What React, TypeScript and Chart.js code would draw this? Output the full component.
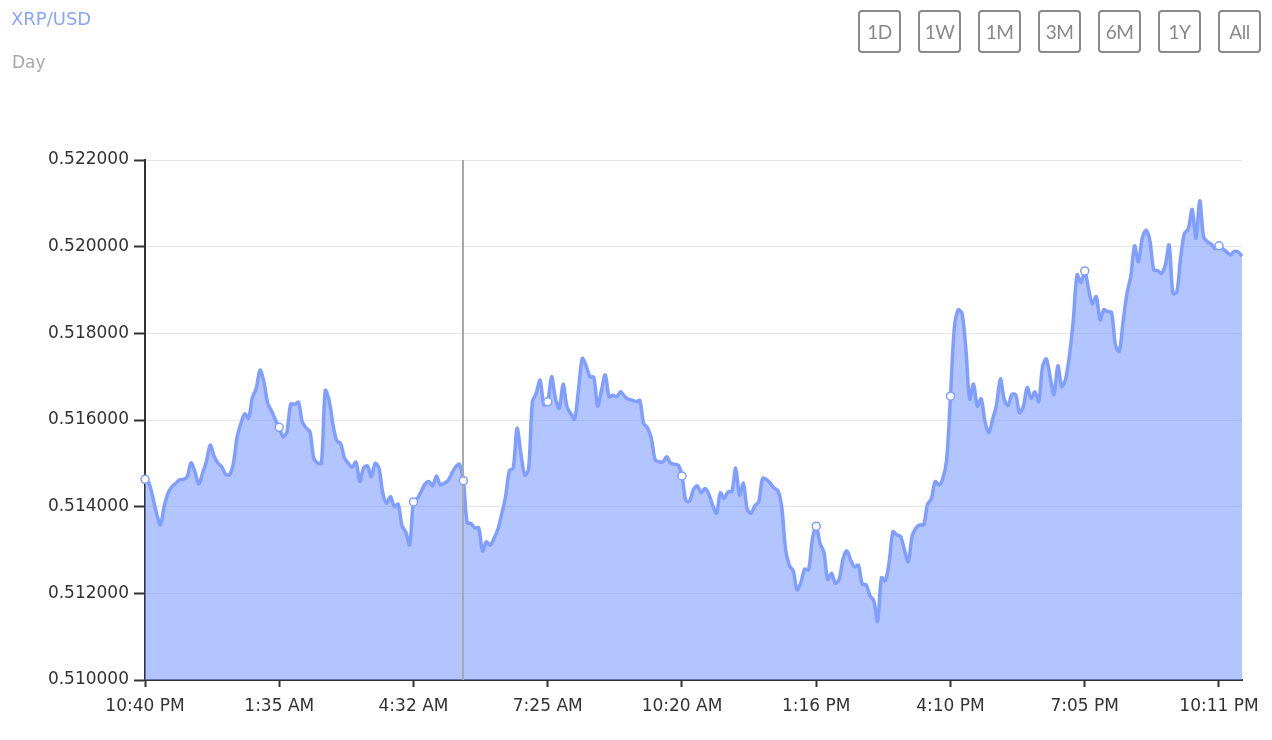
import React, { useEffect, useRef } from "react";
import { Chart, registerables } from "chart.js";

Chart.register(...registerables);

const pair = "XRP/USD";
const period = "Day";
const rangeButtons = ["1D", "1W", "1M", "3M", "6M", "1Y", "All"];

const tickLabels = [
  "10:40 PM", "1:35 AM", "4:32 AM", "7:25 AM", "10:20 AM",
  "1:16 PM", "4:10 PM", "7:05 PM", "10:11 PM",
];
const labelStep = 35;
const hoverIndex = 83;

const prices = [
  0.51463, 0.51455, 0.51423, 0.51385, 0.51358, 0.51400, 0.51431, 0.51446, 0.51454, 0.51462,
  0.51463, 0.51469, 0.51501, 0.51481, 0.51452, 0.51477, 0.51504, 0.51542, 0.51517, 0.51501,
  0.51492, 0.51475, 0.51473, 0.51498, 0.51560, 0.51592, 0.51614, 0.51604, 0.51652, 0.51673,
  0.51715, 0.51688, 0.51639, 0.51621, 0.51600, 0.51583, 0.51561, 0.51573, 0.51637, 0.51636,
  0.51641, 0.51596, 0.51582, 0.51573, 0.51512, 0.51501, 0.51500, 0.51668, 0.51645, 0.51590,
  0.51552, 0.51546, 0.51512, 0.51500, 0.51491, 0.51503, 0.51458, 0.51489, 0.51494, 0.51469,
  0.51500, 0.51489, 0.51431, 0.51408, 0.51423, 0.51400, 0.51406, 0.51356, 0.51341, 0.51312,
  0.51411, 0.51419, 0.51435, 0.51452, 0.51458, 0.51448, 0.51471, 0.51450, 0.51454, 0.51460,
  0.51477, 0.51492, 0.51498, 0.51460, 0.51363, 0.51361, 0.51351, 0.51351, 0.51298, 0.51319,
  0.51311, 0.51327, 0.51348, 0.51383, 0.51423, 0.51483, 0.51489, 0.51581, 0.51523, 0.51473,
  0.51486, 0.51642, 0.51662, 0.51692, 0.51635, 0.51642, 0.51700, 0.51650, 0.51627, 0.51683,
  0.51631, 0.51615, 0.51602, 0.51669, 0.51742, 0.51725, 0.51700, 0.51699, 0.51632, 0.51668,
  0.51704, 0.51654, 0.51657, 0.51654, 0.51665, 0.51655, 0.51648, 0.51646, 0.51642, 0.51645,
  0.51592, 0.51582, 0.51558, 0.51508, 0.51504, 0.51503, 0.51515, 0.51501, 0.51498, 0.51496,
  0.51471, 0.51414, 0.51413, 0.51440, 0.51448, 0.51432, 0.51442, 0.51429, 0.51403, 0.51385,
  0.51432, 0.51419, 0.51434, 0.51435, 0.51489, 0.51427, 0.51454, 0.51394, 0.51385, 0.51402,
  0.51411, 0.51465, 0.51463, 0.51454, 0.51443, 0.51437, 0.51400, 0.51302, 0.51264, 0.51252,
  0.51208, 0.51225, 0.51256, 0.51254, 0.51325, 0.51355, 0.51315, 0.51295, 0.51232, 0.51246,
  0.51223, 0.51233, 0.51280, 0.51298, 0.51276, 0.51261, 0.51265, 0.51221, 0.51220, 0.51195,
  0.51183, 0.51135, 0.51236, 0.51229, 0.51271, 0.51342, 0.51335, 0.51331, 0.51300, 0.51273,
  0.51332, 0.51351, 0.51358, 0.51358, 0.51405, 0.51418, 0.51458, 0.51450, 0.51465, 0.51508,
  0.51655, 0.51812, 0.51854, 0.51846, 0.51765, 0.51648, 0.51683, 0.51632, 0.51649, 0.51596,
  0.51571, 0.51602, 0.51635, 0.51695, 0.51648, 0.51633, 0.51659, 0.51658, 0.51617, 0.51632,
  0.51675, 0.51650, 0.51665, 0.51642, 0.51723, 0.51741, 0.51698, 0.51659, 0.51725, 0.51677,
  0.51694, 0.51748, 0.51829, 0.51935, 0.51917, 0.51944, 0.51902, 0.51868, 0.51885, 0.51831,
  0.51855, 0.51850, 0.51848, 0.51773, 0.51758, 0.51827, 0.51891, 0.51931, 0.52002, 0.51965,
  0.52020, 0.52038, 0.52013, 0.51946, 0.51945, 0.51938, 0.51958, 0.52004, 0.51892, 0.51895,
  0.51975, 0.52031, 0.52041, 0.52086, 0.52019, 0.52106, 0.52022, 0.52011, 0.52006, 0.51995,
  0.52002, 0.51995, 0.51988, 0.51981, 0.51989, 0.51988, 0.51978,
];

const categories = prices.map((_, i) =>
  i % labelStep === 0 ? tickLabels[i / labelStep] : ""
);

const yMin = 0.51;
const yMax = 0.522;
const yStep = 0.002;

const LINE = "#809eff";
const FILL = "rgba(128,158,255,0.6)";
const AXIS = "#333333";
const FONT = "DejaVu Sans";

const crosshair = {
  id: "crosshair",
  afterDatasetsDraw(chart: any) {
    const meta = chart.getDatasetMeta(0);
    const el = meta.data[hoverIndex];
    if (!el) return;
    const { top, bottom } = chart.chartArea;
    const ctx = chart.ctx;
    ctx.save();
    ctx.strokeStyle = "#a8a8a8";
    ctx.lineWidth = 2;
    ctx.beginPath();
    ctx.moveTo(Math.round(el.x), top);
    ctx.lineTo(Math.round(el.x), bottom);
    ctx.stroke();
    ctx.beginPath();
    ctx.arc(el.x, el.y, 4, 0, Math.PI * 2);
    ctx.fillStyle = "#ffffff";
    ctx.fill();
    ctx.lineWidth = 1.5;
    ctx.strokeStyle = LINE;
    ctx.stroke();
    ctx.restore();
  },
};

export default function App() {
  const canvasRef = useRef<HTMLCanvasElement | null>(null);

  useEffect(() => {
    if (!canvasRef.current) return;
    const chart = new Chart(canvasRef.current, {
      type: "line",
      data: {
        labels: categories,
        datasets: [
          {
            data: prices,
            borderColor: LINE,
            backgroundColor: FILL,
            borderWidth: 3.5,
            fill: "start",
            tension: 0.3,
            pointRadius: (ctx: any) =>
              ctx.dataIndex % labelStep === 0 ? 4 : 0,
            pointBackgroundColor: "#ffffff",
            pointBorderColor: LINE,
            pointBorderWidth: 1.5,
          },
        ],
      },
      options: {
        animation: false,
        responsive: false,
        maintainAspectRatio: false,
        events: [],
        layout: { padding: { left: 0, top: 160, right: 30, bottom: 0 } },
        plugins: {
          legend: { display: false },
          tooltip: { enabled: false },
        },
        scales: {
          x: {
            type: "category",
            offset: false,
            afterBuildTicks: (s: any) => {
              s.ticks = s.ticks.filter((t: any) => t.value % labelStep === 0);
            },
            afterFit: (s: any) => {
              s.height = 60;
            },
            grid: {
              display: true,
              drawOnChartArea: false,
              drawTicks: true,
              tickLength: 7,
              tickColor: AXIS,
              tickWidth: 2,
            },
            border: { display: true, color: AXIS, width: 2 },
            ticks: {
              autoSkip: false,
              maxRotation: 0,
              color: AXIS,
              padding: 9,
              font: { family: FONT, size: 17 },
            },
          },
          y: {
            min: yMin,
            max: yMax,
            afterFit: (s: any) => {
              s.width = 145;
            },
            grid: {
              color: "#e6e6e6",
              lineWidth: 1,
              tickLength: 11,
              tickColor: AXIS,
              tickWidth: 2,
            },
            border: { display: true, color: AXIS, width: 2 },
            ticks: {
              stepSize: yStep,
              color: AXIS,
              padding: 5,
              font: { family: FONT, size: 17 },
              callback: (v: any) => Number(v).toFixed(6),
            },
          },
        },
      },
      plugins: [crosshair],
    } as any);
    return () => chart.destroy();
  }, []);

  return (
    <div
      style={{
        position: "fixed",
        left: 0,
        top: 0,
        width: 1272,
        height: 740,
        background: "#ffffff",
        fontFamily: FONT,
        overflow: "hidden",
      }}
    >
      <canvas
        ref={canvasRef}
        width={1272}
        height={740}
        style={{ position: "absolute", left: 0, top: 0, width: 1272, height: 740 }}
      />
      <div
        style={{
          position: "absolute",
          left: 11,
          top: 10,
          fontSize: 18,
          lineHeight: "18px",
          color: "#89a5ff",
          whiteSpace: "nowrap",
        }}
      >
        {pair}
      </div>
      <div
        style={{
          position: "absolute",
          left: 12,
          top: 54,
          fontSize: 17,
          lineHeight: "17px",
          color: "#aaaaaa",
          whiteSpace: "nowrap",
        }}
      >
        {period}
      </div>
      {rangeButtons.map((b, i) => (
        <div
          key={b}
          style={{
            position: "absolute",
            left: 858 + i * 60,
            top: 10,
            width: 43,
            height: 43,
            boxSizing: "border-box",
            border: "2px solid #8a8a8a",
            borderRadius: 4,
            color: "#888888",
            fontFamily: "Lato",
            fontWeight: 400,
            fontSize: 19,
            display: "flex",
            alignItems: "center",
            justifyContent: "center",
            letterSpacing: -0.5,
          }}
        >
          {b}
        </div>
      ))}
    </div>
  );
}
